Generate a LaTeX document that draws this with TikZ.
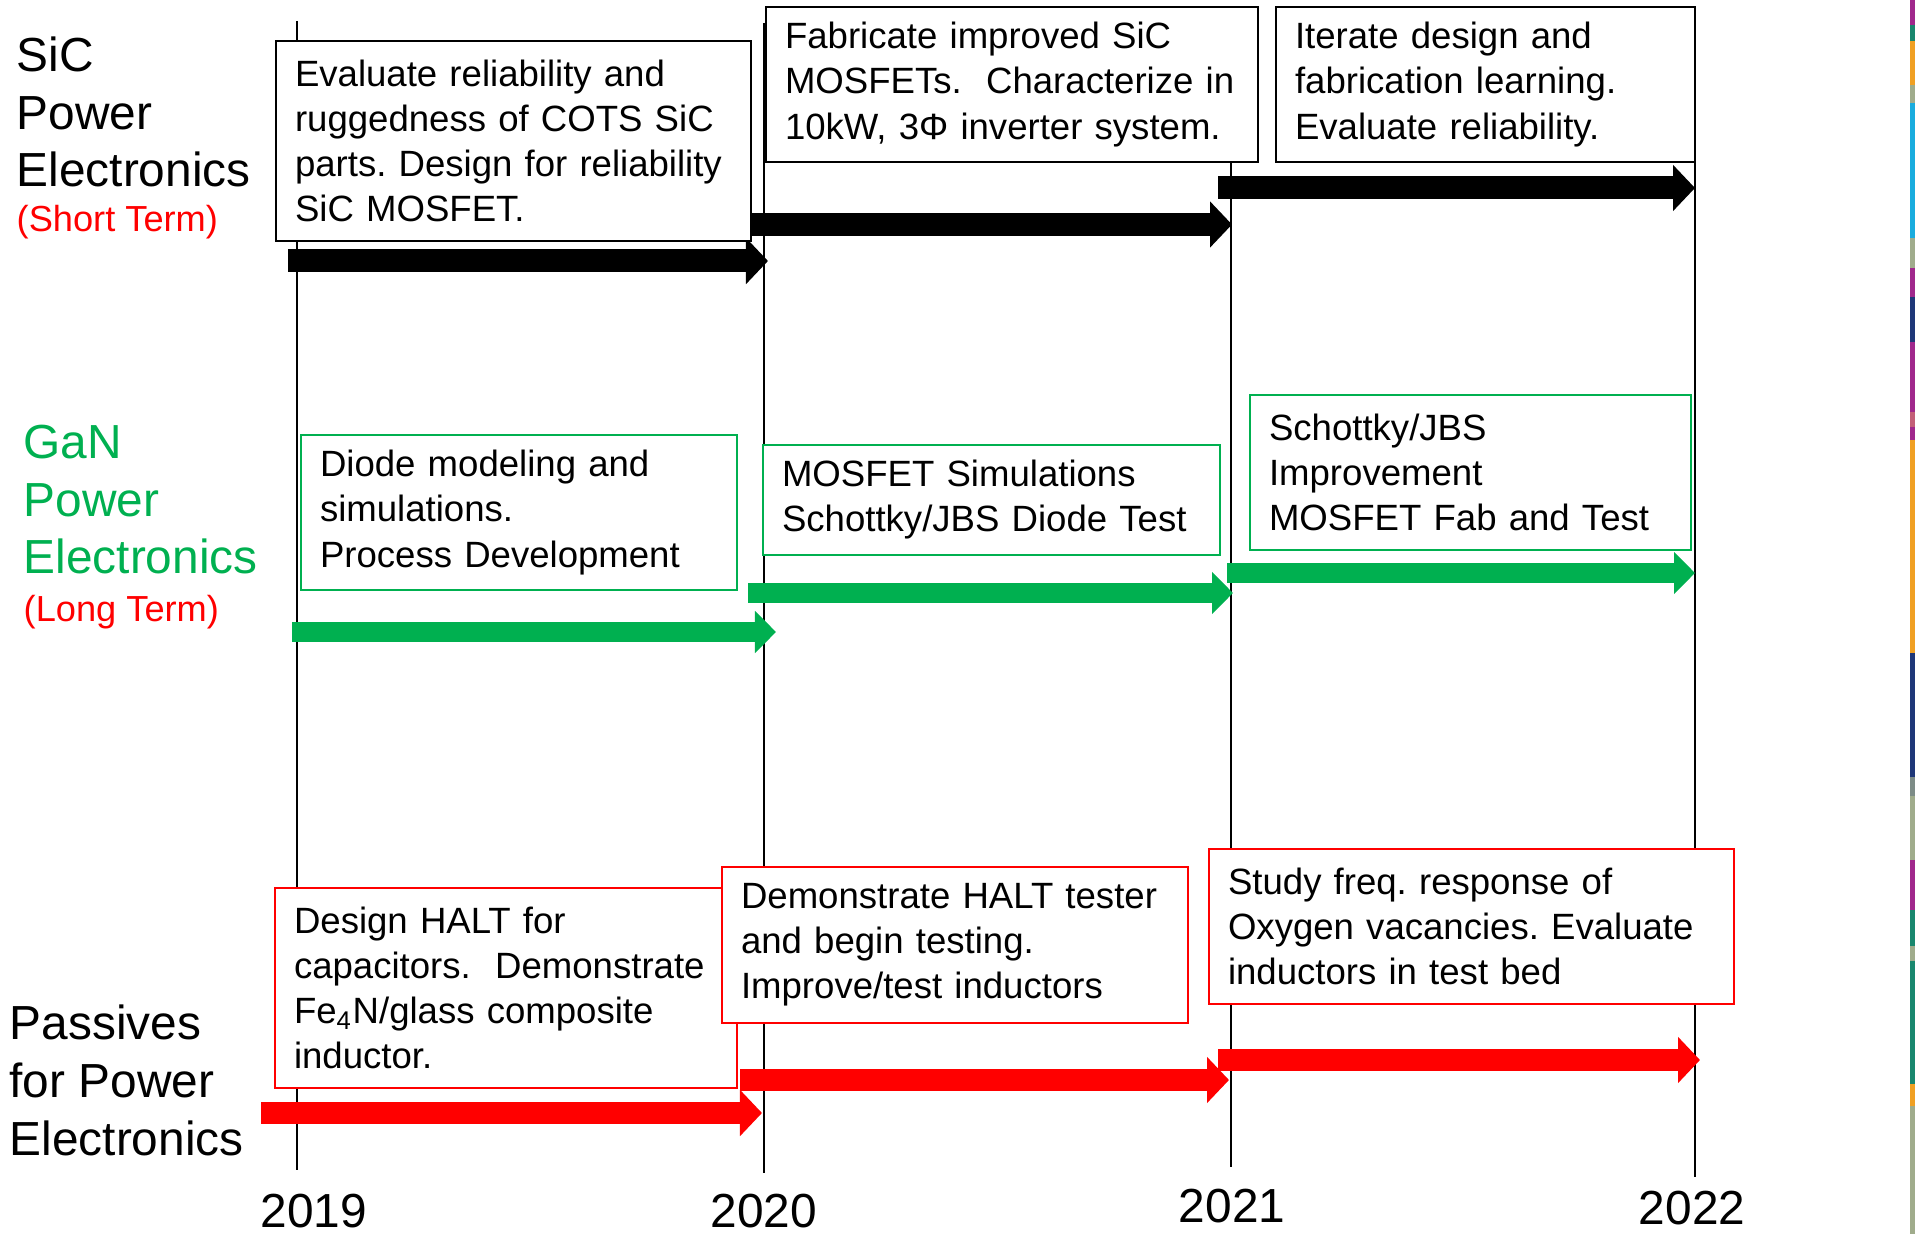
\documentclass[tikz,border=0pt]{standalone}
\usepackage{fontspec}
\setmainfont{Liberation Sans}
\usepackage{tikz}
\usepackage{xcolor}
\usetikzlibrary{arrows.meta}

\definecolor{ganGreen}{RGB}{0,176,80}
\definecolor{stripPurple}{RGB}{160,40,140}
\definecolor{stripTeal}{RGB}{25,135,110}
\definecolor{stripOrange}{RGB}{240,160,35}
\definecolor{stripSage}{RGB}{160,172,140}
\definecolor{stripCyan}{RGB}{25,172,222}
\definecolor{stripNavy}{RGB}{30,55,120}
\definecolor{stripRose}{RGB}{195,95,120}
\definecolor{stripGray}{RGB}{125,140,135}
\frenchspacing

\begin{document}
\begin{tikzpicture}[x=0.01cm, y=-0.01cm,
    task/.style={draw, fill=white, line width=0.02cm, anchor=north west, align=left,
        inner xsep=0.19cm, inner ysep=0pt, font=\fontsize{10.4}{12.8}\selectfont},
    rowlabel/.style={anchor=base west, align=left, inner sep=0pt,
        font=\fontsize{13.6}{16.4}\selectfont},
    term/.style={anchor=base west, inner sep=0pt, text=red,
        font=\fontsize{10.3}{12.8}\selectfont},
    year/.style={anchor=base, inner sep=0pt, font=\fontsize{13.6}{16.4}\selectfont},
    yearline/.style={line width=0.025cm},
    sicbar/.style={line width=0.23cm, -{Triangle[length=0.22cm, width=0.45cm]}},
    ganbar/.style={ganGreen, line width=0.20cm, -{Triangle[length=0.21cm, width=0.41cm]}},
    pasbar/.style={red, line width=0.22cm, -{Triangle[length=0.22cm, width=0.45cm]}}
]
    \useasboundingbox (0,0) rectangle (1915,1234);

    % Year lines
    \draw[yearline] (297,21) -- (297,1170);
    \draw[yearline] (764,23) -- (764,1173);
    \draw[yearline] (1231,23) -- (1231,1167);
    \draw[yearline] (1695,28) -- (1695,1177);

    % Years
    \node[year] (y2019) at (314,1227) {2019};
    \node[year] (y2020) at (764,1227) {2020};
    \node[year] (y2021) at (1232,1222) {2021};
    \node[year] (y2022) at (1692,1224) {2022};

    % Row titles (base = last line)
    \node[rowlabel] (sicLabel) at (16,187) {SiC\\Power\\Electronics};
    \node[term] (sicTerm) at (16,232) {(Short Term)};
    \node[rowlabel, text=ganGreen] (ganLabel) at (23,574) {GaN\\Power\\Electronics};
    \node[term] (ganTerm) at (23,622) {(Long Term)};
    \node[rowlabel] (pasLabel) at (9,1155) {Passives\\for Power\\Electronics};

    % SiC bars
    \draw[sicbar] (288,261) -- (768,261);
    \draw[sicbar] (748,224.5) -- (1232,224.5);
    \draw[sicbar] (1218,188) -- (1695,188);

    % GaN bars
    \draw[ganbar] (292,632) -- (776,632);
    \draw[ganbar] (748,593) -- (1233,593);
    \draw[ganbar] (1227,573) -- (1695,573);

    % Passives bars
    \draw[pasbar] (261,1113) -- (762,1113);
    \draw[pasbar] (740,1080) -- (1229,1080);
    \draw[pasbar] (1218,1060) -- (1700,1060);

    % SiC tasks
    \node[task, text width=4.37cm, minimum height=2.00cm] (sic1) at (275,40)
        {Evaluate reliability and\\ruggedness of COTS SiC\\parts. Design for reliability\\SiC MOSFET.};
    \node[task, text width=4.54cm, minimum height=1.55cm] (sic2) at (765,6)
        {Fabricate improved SiC\\MOSFETs.\ \ Characterize in\\10kW, 3Φ inverter system.};
    \node[task, text width=3.81cm, minimum height=1.55cm] (sic3) at (1275,6)
        {Iterate design and\\fabrication learning.\\Evaluate reliability.};

    % GaN tasks
    \node[task, draw=ganGreen, text width=3.98cm, minimum height=1.55cm] (gan1) at (300,434)
        {Diode modeling and\\simulations.\\Process Development};
    \node[task, draw=ganGreen, text width=4.19cm, minimum height=1.10cm] (gan2) at (762,444)
        {MOSFET Simulations\\Schottky/JBS Diode Test};
    \node[task, draw=ganGreen, text width=4.03cm, minimum height=1.55cm] (gan3) at (1249,394)
        {Schottky/JBS\\Improvement\\MOSFET Fab and Test};

    % Passives tasks
    \node[task, draw=red, text width=4.24cm, minimum height=2.00cm] (pas1) at (274,887)
        {Design HALT for\\capacitors.\ \ Demonstrate\\Fe\textsubscript{4}N/glass composite\\inductor.};
    \node[task, draw=red, text width=4.28cm, minimum height=1.56cm] (pas2) at (721,866)
        {Demonstrate HALT tester\\and begin testing.\\Improve/test inductors};
    \node[task, draw=red, text width=4.87cm, minimum height=1.55cm] (pas3) at (1208,848)
        {Study freq. response of\\Oxygen vacancies. Evaluate\\inductors in test bed};

    % Colour strip on the right edge
    \fill[stripPurple] (1910,0) rectangle (1915,25);
    \fill[stripTeal] (1910,25) rectangle (1915,41);
    \fill[stripOrange] (1910,41) rectangle (1915,85);
    \fill[stripSage] (1910,85) rectangle (1915,103);
    \fill[stripCyan] (1910,103) rectangle (1915,238);
    \fill[stripSage] (1910,238) rectangle (1915,268);
    \fill[stripPurple] (1910,268) rectangle (1915,297);
    \fill[stripNavy] (1910,297) rectangle (1915,342);
    \fill[stripPurple] (1910,342) rectangle (1915,412);
    \fill[stripRose] (1910,412) rectangle (1915,427);
    \fill[stripPurple] (1910,427) rectangle (1915,440);
    \fill[stripOrange] (1910,440) rectangle (1915,653);
    \fill[stripNavy] (1910,653) rectangle (1915,777);
    \fill[stripGray] (1910,777) rectangle (1915,796);
    \fill[stripSage] (1910,796) rectangle (1915,860);
    \fill[stripPurple] (1910,860) rectangle (1915,910);
    \fill[stripTeal] (1910,910) rectangle (1915,946);
    \fill[stripSage] (1910,946) rectangle (1915,961);
    \fill[stripTeal] (1910,961) rectangle (1915,1084);
    \fill[stripOrange] (1910,1084) rectangle (1915,1106);
    \fill[stripSage] (1910,1106) rectangle (1915,1234);
\end{tikzpicture}
\end{document}
